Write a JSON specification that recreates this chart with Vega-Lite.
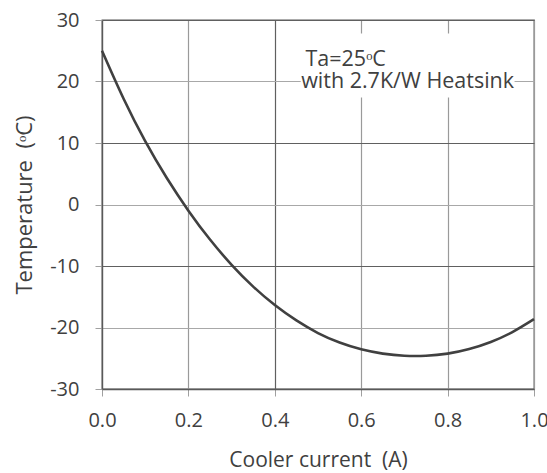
{
  "$schema": "https://vega.github.io/schema/vega-lite/v6.json",
  "autosize": "none",
  "padding": {"left": 102, "top": 20, "right": 13, "bottom": 84},
  "width": 432,
  "height": 369,
  "background": "white",
  "config": {
    "font": "Open Sans",
    "view": {"stroke": "#595959", "strokeWidth": 1.3},
    "axis": {
      "labelFont": "Open Sans",
      "titleFont": "Open Sans",
      "labelFontSize": 20,
      "titleFontSize": 21,
      "labelColor": "#404040",
      "titleColor": "#404040",
      "titleFontWeight": "normal",
      "domainColor": "#595959",
      "domainWidth": 1.3,
      "tickColor": "#a0a0a0",
      "tickSize": 7,
      "grid": true,
      "gridWidth": 1.2,
      "labelFlush": false,
      "labelExpr": "replace(datum.label, '−', '-')"
    }
  },
  "datasets": {
    "curve": [
      {"current": 0.0, "temp": 25.0},
      {"current": 0.05, "temp": 17.2},
      {"current": 0.1, "temp": 10.3},
      {"current": 0.15, "temp": 4.3},
      {"current": 0.2, "temp": -1.0},
      {"current": 0.25, "temp": -5.7},
      {"current": 0.3, "temp": -9.8},
      {"current": 0.35, "temp": -13.35},
      {"current": 0.4, "temp": -16.35},
      {"current": 0.45, "temp": -18.85},
      {"current": 0.5, "temp": -20.9},
      {"current": 0.55, "temp": -22.45},
      {"current": 0.6, "temp": -23.55},
      {"current": 0.65, "temp": -24.25},
      {"current": 0.7, "temp": -24.6},
      {"current": 0.75, "temp": -24.6},
      {"current": 0.8, "temp": -24.25},
      {"current": 0.85, "temp": -23.5},
      {"current": 0.9, "temp": -22.35},
      {"current": 0.95, "temp": -20.75},
      {"current": 1.0, "temp": -18.65}
    ],
    "note": [
      {"line1": "Ta=25ᵒC", "line2": "with 2.7K/W Heatsink"}
    ]
  },
  "layer": [
    {
      "data": {"name": "curve"},
      "mark": {"type": "line", "color": "#404040", "strokeWidth": 2.6, "interpolate": "natural"},
      "encoding": {
        "x": {"field": "current", "type": "quantitative", "scale": {"domain": [0, 1], "nice": false},
          "axis": {
            "title": "Cooler current \u00a0(A)",
            "values": [0, 0.2, 0.4, 0.6, 0.8, 1.0],
            "format": ".1f",
            "grid": true,
            "labelPadding": 14,
            "titlePadding": 19,
            "gridColor": {"condition": {"test": "abs(datum.value - 0.4) < 0.01", "value": "#606060"}, "value": "#9a9a9a"}
          }
        },
        "y": {"field": "temp", "type": "quantitative", "scale": {"domain": [-30, 30], "nice": false},
          "axis": {
            "title": "Temperature \u00a0(ᵒC)",
            "titleFontSize": 22,
            "values": [-30, -20, -10, 0, 10, 20, 30],
            "grid": true,
            "labelPadding": 16,
            "titlePadding": 13,
            "gridColor": {"condition": {"test": "abs(datum.value % 20) > 5", "value": "#606060"}, "value": "#a8a8a8"}
          }
        }
      }
    },
    {
      "data": {"name": "note"},
      "mark": {"type": "rect", "fill": "white"},
      "encoding": {
        "x": {"datum": 0.46, "type": "quantitative"},
        "x2": {"datum": 0.955},
        "y": {"datum": 27.8, "type": "quantitative"},
        "y2": {"datum": 17.4}
      }
    },
    {
      "data": {"name": "note"},
      "mark": {"type": "text", "align": "left", "baseline": "alphabetic", "font": "Open Sans", "fontSize": 21.5, "color": "#404040"},
      "encoding": {
        "x": {"datum": 0.471, "type": "quantitative"},
        "y": {"datum": 22.6, "type": "quantitative"},
        "text": {"field": "line1"}
      }
    },
    {
      "data": {"name": "note"},
      "mark": {"type": "text", "align": "left", "baseline": "alphabetic", "font": "Open Sans", "fontSize": 21.5, "color": "#404040"},
      "encoding": {
        "x": {"datum": 0.461, "type": "quantitative"},
        "y": {"datum": 18.9, "type": "quantitative"},
        "text": {"field": "line2"}
      }
    }
  ]
}
